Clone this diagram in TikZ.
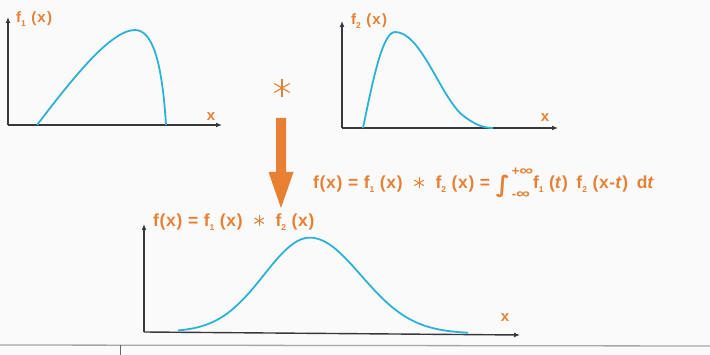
\documentclass[tikz,border=0pt]{standalone}
\usepackage{fontspec}
\usetikzlibrary{arrows.meta}
\newfontfamily\lab[LetterSpace=4,BoldFont={Liberation Sans Bold}]{Liberation Sans}
\newfontfamily\labw[LetterSpace=8,BoldFont={Liberation Sans Bold}]{Liberation Sans}
\newfontfamily\djv{DejaVu Sans}
\definecolor{orng}{RGB}{232,128,52}
\definecolor{crv}{RGB}{45,178,215}
\definecolor{axc}{RGB}{55,55,60}
\definecolor{bg}{RGB}{250,250,250}
\newcommand\starsym[2]{\tikz[baseline=-0.6ex,x=1pt,y=1pt]{\foreach \a in {90,30,150}{\draw[orng,line width=#2] (\a:-#1) -- (\a:#1);}}}
\newcommand\sbs[1]{\raisebox{-0.45ex}{\fontsize{8.5}{8.5}\selectfont #1}}
\newcommand\infy{\scalebox{1.5}[1.1]{∞}}
\begin{document}
\begin{tikzpicture}[x=1pt,y=-1pt,
  axis/.style={draw=axc,line width=1.4pt,-{Latex[length=6pt,width=5pt]}},
  curve/.style={draw=crv,line width=1.8pt},
  lbl/.style={text=orng,font=\labw\bfseries\fontsize{15}{15}\selectfont,inner sep=0pt},
  big/.style={text=orng,font=\lab\bfseries\fontsize{17.5}{17.5}\selectfont,inner sep=0pt}]
\fill[bg] (0,0) rectangle (710,355);
\useasboundingbox (0,0) rectangle (710,355);
% plot 1
\coordinate (o1) at (8,125);
\coordinate (y1) at (8,17);
\coordinate (x1) at (222,125);
\draw[axis] (o1) -- (y1);
\draw[axis] (o1) -- (x1);
\draw[curve] (37,125) .. controls (70,82) and (110,30) .. (135,30) .. controls (152,30) and (162,60) .. (166,125);
\node[lbl,anchor=west] (l1) at (16,19) {f\sbs{1} (x)};
\node[lbl] (xl1) at (211,117) {x};
% plot 2
\coordinate (o2) at (342,128);
\coordinate (y2) at (342,21);
\coordinate (x2) at (558,128);
\draw[axis] (o2) -- (y2);
\draw[axis] (o2) -- (x2);
\draw[curve] (363,128) .. controls (372,85) and (382,32) .. (395,32) .. controls (420,32) and (438,90) .. (460,113) .. controls (474,125) and (484,128) .. (493,128);
\node[lbl,anchor=west] (l2) at (351,21) {f\sbs{2} (x)};
\node[lbl] (xl2) at (545,118) {x};
% star
\node[inner sep=0pt] (st) at (282,88) {\starsym{9}{1.1pt}};
% arrow
\fill[orng] (276,118) -- (286,118) -- (286,172) -- (293.5,172) -- (281,208) -- (268.5,172) -- (276,172) -- cycle;
% formula
\node[big,anchor=west] (fm) at (313,183) {f(x) = f\sbs{1} (x) \ \starsym{5.5}{1pt}\ \ f\sbs{2} (x) = {\djv\fontsize{23}{23}\selectfont\raisebox{-0.3ex}{∫}}\kern2pt\makebox[0pt][l]{\raisebox{1.4ex}{\fontsize{13}{13}\selectfont +\infy}}\raisebox{-1.05ex}{\fontsize{13}{13}\selectfont -\infy}\kern3pt f\sbs{1} (\textit{t})\, f\sbs{2} (x-\textit{t})\, d\textit{t}};
% plot 3
\coordinate (o3) at (144,332);
\coordinate (y3) at (144,224);
\coordinate (x3) at (520,335);
\draw[axis] (o3) -- (y3);
\draw[axis] (o3) -- (x3);
\draw[curve] plot[domain=178:310,samples=60,smooth] (\x,{332+1.5*(\x-180)/287-95*exp(-((\x-310)/46)^2/2)})
  -- plot[domain=310:468,samples=60,smooth] (\x,{332+1.5*(\x-180)/287-95*exp(-((\x-310)/51)^2/2)});
\node[big,anchor=west] (l3) at (153,222) {f(x) = f\sbs{1} (x) \ \starsym{5.5}{1pt}\ \ f\sbs{2} (x)};
\node[lbl] (xl3) at (505,318) {x};
% frame lines
\coordinate (g1) at (0,345);
\coordinate (g2) at (710,346);
\draw[gray!70,line width=1.3pt] (g1) -- (g2);
\coordinate (v1) at (120,345);
\coordinate (v2) at (120,355);
\draw[gray!80!black,line width=1pt] (v1) -- (v2);
\end{tikzpicture}
\end{document}
